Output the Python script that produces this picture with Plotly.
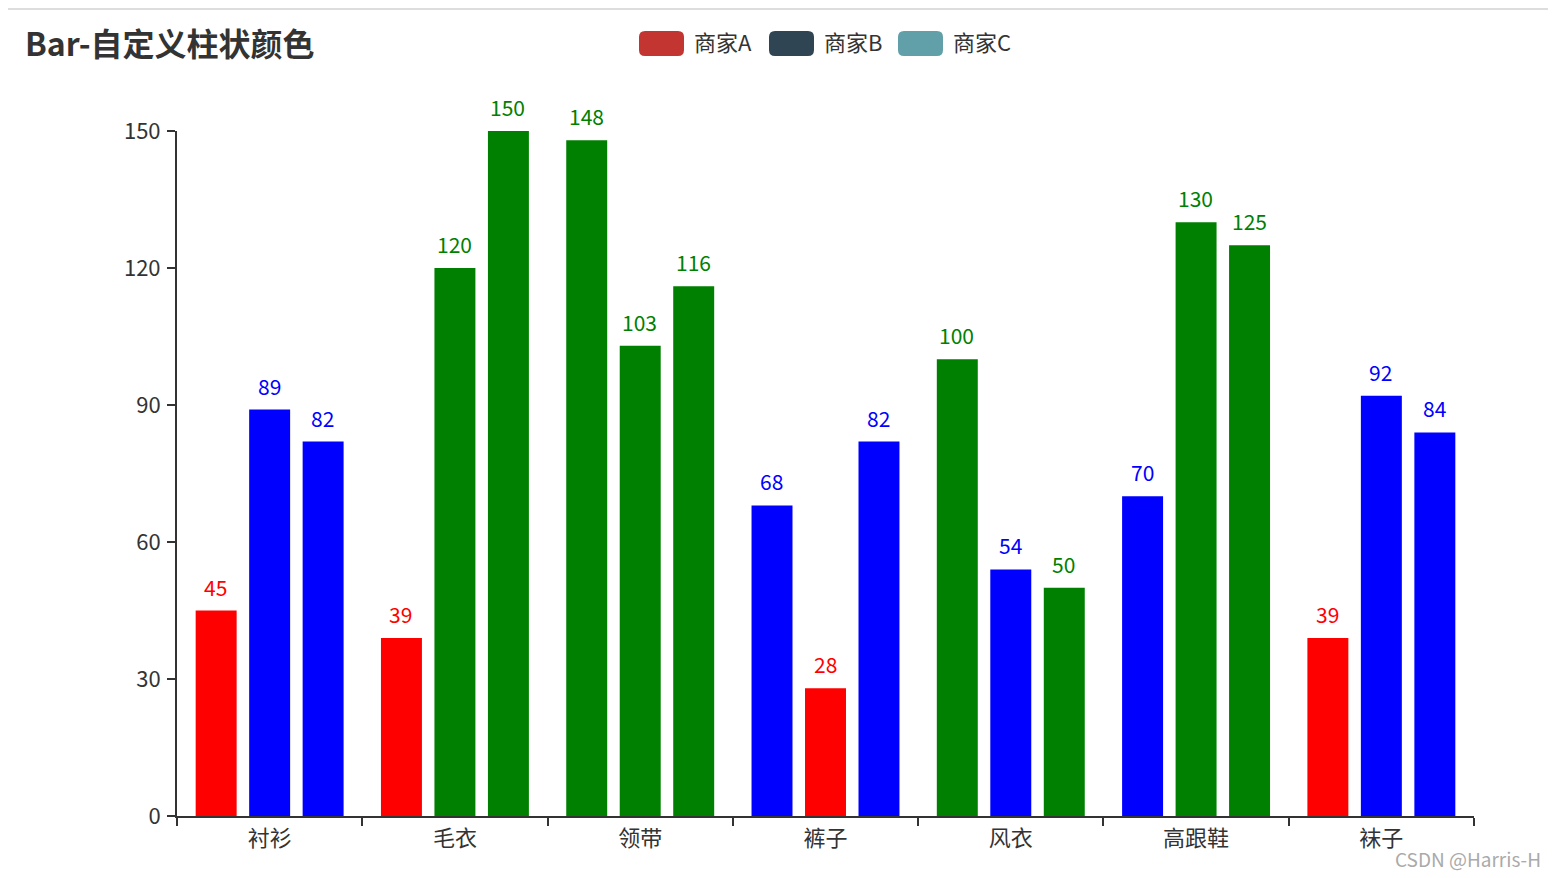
import plotly.graph_objects as go

categories = ["衬衫", "毛衣", "领带", "裤子", "风衣", "高跟鞋", "袜子"]
series_names = ["商家A", "商家B", "商家C"]
values_a = [45, 39, 148, 68, 100, 70, 39]
values_b = [89, 120, 103, 28, 54, 130, 92]
values_c = [82, 150, 116, 82, 50, 125, 84]
y_ticks = [0, 30, 60, 90, 120, 150]

RED, BLUE, GREEN = "#ff0000", "#0000ff", "#008000"
colors_a = [RED, RED, GREEN, BLUE, GREEN, BLUE, RED]
colors_b = [BLUE, GREEN, GREEN, RED, BLUE, GREEN, BLUE]
colors_c = [BLUE, GREEN, GREEN, BLUE, GREEN, GREEN, BLUE]
legend_colors = ["#c23531", "#2f4554", "#61a0a8"]

# page has an 8px body margin; figure origin sits at (8, 8) of the window
OFF = 8
WIN_W, WIN_H = 1556, 878
W, H = WIN_W - OFF, WIN_H - OFF
L, R, T, B = 177, 1474, 131, 816          # plot area in window pixels
FONT = "Noto Sans CJK SC, Microsoft YaHei, sans-serif"
BARGAP, GROUPGAP = 0.134, 0.234


def px(x):
    return (x - L) / (R - L)


def py(y):
    return (B - y) / (B - T)


cat_w = (R - L) / len(categories)
slot_w = cat_w * (1 - BARGAP) / len(series_names)

fig = go.Figure()
annotations = []
for i, (name, vals, cols) in enumerate(zip(series_names, [values_a, values_b, values_c],
                                           [colors_a, colors_b, colors_c])):
    fig.add_trace(go.Bar(
        x=categories, y=vals, name=name, showlegend=False,
        marker=dict(color=cols, line=dict(width=0)),
    ))
    shift = (i - (len(series_names) - 1) / 2) * slot_w - 0.5
    for c, v, col in zip(categories, vals, cols):
        annotations.append(dict(x=c, y=v, xref="x", yref="y", text=str(v),
                                showarrow=False, xanchor="center", yanchor="bottom",
                                xshift=shift, yshift=7,
                                font=dict(size=21, color=col, family=FONT)))

shapes = [dict(type="line", xref="paper", yref="paper",
               x0=px(OFF), x1=px(WIN_W), y0=py(9), y1=py(9),
               line=dict(color="#dddddd", width=2))]
legend_boxes = [(639, 693), (769, 823), (898, 952)]
for (bx, tx), name, col in zip(legend_boxes, series_names, legend_colors):
    x0, x1 = px(bx), px(bx + 45)
    y0, y1 = py(56), py(31)
    r = 6
    rx = r / (R - L)
    ry = r / (B - T)
    path = (f"M {x0+rx},{y0} L {x1-rx},{y0} Q {x1},{y0} {x1},{y0+ry} "
            f"L {x1},{y1-ry} Q {x1},{y1} {x1-rx},{y1} L {x0+rx},{y1} "
            f"Q {x0},{y1} {x0},{y1-ry} L {x0},{y0+ry} Q {x0},{y0} {x0+rx},{y0} Z")
    shapes.append(dict(type="path", xref="paper", yref="paper", path=path,
                       fillcolor=col, line=dict(width=0)))
    annotations.append(dict(xref="paper", yref="paper", x=px(tx - 1), y=py(41),
                            xanchor="left", yanchor="middle", showarrow=False,
                            text=name, font=dict(size=22, color="#333333", family=FONT)))

annotations.append(dict(xref="paper", yref="paper", x=px(1543), y=py(858),
                        xanchor="right", yanchor="middle", showarrow=False,
                        text="CSDN @Harris-H",
                        font=dict(size=19, color="#aaaaaa", family=FONT)))

fig.update_layout(
    width=W, height=H,
    margin=dict(l=L - OFF, r=WIN_W - R, t=T - OFF, b=WIN_H - B, pad=0),
    paper_bgcolor="white", plot_bgcolor="white",
    barmode="group", bargap=BARGAP, bargroupgap=GROUPGAP,
    title=dict(text="<b>Bar-自定义柱状颜色</b>", x=(25 - OFF) / W, xref="container",
               xanchor="left", y=1 - (45 - OFF) / H, yref="container", yanchor="middle",
               font=dict(size=32, color="#333333", family=FONT)),
    xaxis=dict(showline=True, linecolor="#333333", linewidth=2,
               ticks="outside", ticklen=8, tickwidth=2, tickcolor="#333333",
               tickson="boundaries", showgrid=False, ticklabelstandoff=2,
               tickfont=dict(size=22, color="#333333", family=FONT)),
    yaxis=dict(range=[0, 150], tickvals=y_ticks, showline=True,
               linecolor="#333333", linewidth=2, ticks="outside", ticklen=8,
               tickwidth=2, tickcolor="#333333", showgrid=False, zeroline=False,
               ticklabelstandoff=2,
               tickfont=dict(size=22, color="#333333", family=FONT)),
    shapes=shapes, annotations=annotations,
)

fig.write_html("out.html")
